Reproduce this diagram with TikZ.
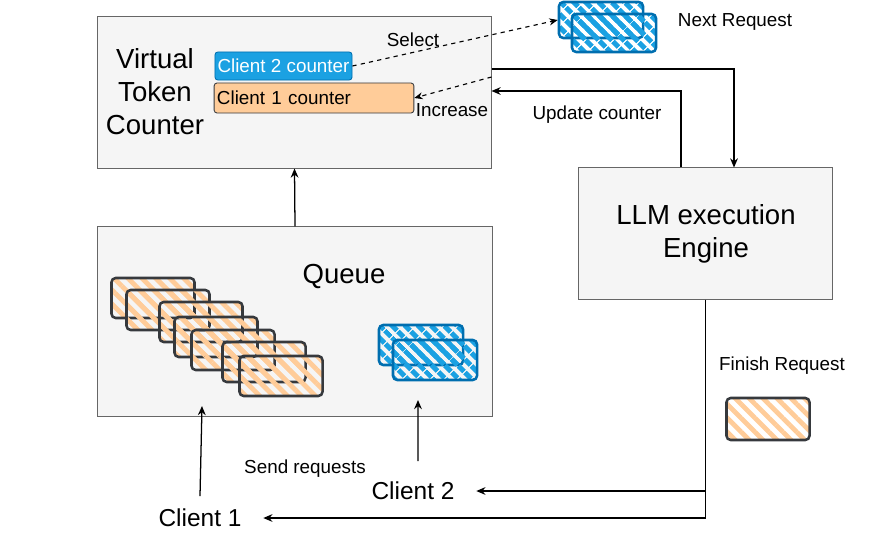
\documentclass[tikz,border=0pt]{standalone}
\usepackage{fontspec}
\setmainfont{Liberation Sans}
\usepackage{tikz}
\usetikzlibrary{arrows.meta, patterns.meta}

\definecolor{panelfill}{HTML}{F5F5F5}
\definecolor{paneldraw}{HTML}{666666}
\definecolor{peach}{HTML}{FFCC99}
\definecolor{darkline}{HTML}{36393D}
\definecolor{skyblue}{HTML}{1BA1E2}
\definecolor{deepblue}{HTML}{006EAF}

\begin{document}
\begin{tikzpicture}[
    x=0.025cm, y=-0.025cm,
    panel/.style={draw=paneldraw, fill=panelfill, line width=0.7pt, inner sep=0pt},
    counter/.style={rounded corners=2pt, draw=darkline, line width=0.6pt, fill=peach, inner xsep=2pt, inner ysep=0pt,
        align=left, font=\fontsize{13.4}{16}\selectfont},
    hatcho/.style={rounded corners=3pt, draw=darkline, line width=1.8pt, inner sep=0pt,
        pattern={Lines[angle=-45, distance=7pt, line width=3.4pt]}, pattern color=peach,
        minimum width=2.075cm, minimum height=1cm},
    hatchb/.style={rounded corners=3pt, draw=deepblue, line width=1.8pt, inner sep=0pt,
        pattern={Lines[angle=-45, distance=6.5pt, line width=4pt]}, pattern color=skyblue,
        minimum width=2.1cm, minimum height=1cm},
    big/.style={font=\fontsize{19.6}{23.5}\selectfont, align=center},
    mid/.style={font=\fontsize{17.4}{21}\selectfont},
    small/.style={font=\fontsize{13.4}{16}\selectfont},
    conn/.style={-{Stealth[length=6.5pt, width=5.5pt]}, line width=0.9pt},
    dconn/.style={-{Stealth[length=6pt, width=5pt]}, line width=0.8pt, dashed}
]
\useasboundingbox (0,0) rectangle (872,540);

% 虚拟令牌计数器
\node[panel, minimum width=9.825cm, minimum height=3.775cm] (vtc) at (294.5,92.5) {};
\node[big] (vtclabel) at (155,92) {Virtual\\Token\\Counter};
\node[counter, fill=skyblue, draw=deepblue, text=white, inner xsep=0.5pt, minimum width=3.425cm, minimum height=0.7cm] (c2cnt) at (283.5,66) {Client 2 counter};
\node[counter, text width=4.85cm, minimum height=0.75cm] (c1cnt) at (314,98) {Client 1 counter};

% 执行引擎
\node[panel, minimum width=6.325cm, minimum height=3.275cm] (llm) at (705.5,233.5) {};
\node[big] (llmlabel) at (706,233.5) {LLM execution\\Engine};

% 队列
\node[panel, minimum width=9.85cm, minimum height=4.725cm] (queue) at (295,321.5) {};
\node[big] (queuelabel) at (344,276) {Queue};

% 客户端1 的请求
\node[hatcho] (o1) at (153,298) {};
\node[hatcho] (o2) at (168,310) {};
\node[hatcho] (o3) at (201,322) {};
\node[hatcho] (o4) at (216,337) {};
\node[hatcho] (o5) at (233,350) {};
\node[hatcho] (o6) at (264,362) {};
\node[hatcho] (o7) at (281,376) {};

% 客户端2 的请求
\node[hatchb] (b1) at (421,345) {};
\node[hatchb] (b2) at (435,360) {};

% 下一个请求 / 完成的请求
\node[hatchb, minimum height=0.9cm] (nr1) at (601,20) {};
\node[hatchb, minimum height=0.95cm] (nr2) at (614,33) {};
\node[small, anchor=west] (nrlabel) at (673,22) {Next Request};
\node[hatcho, minimum height=1.05cm] (fin) at (768,419) {};
\node[small] (finlabel) at (782,366) {Finish Request};

% 客户端
\node[mid] (client1) at (200,518) {Client 1};
\node[mid] (client2) at (413,491) {Client 2};
\coordinate (q1) at (202,406);
\coordinate (q2) at (418,400);

% 连线
\draw[conn] (queue.north) -- (vtc.south);
\draw[conn] (vtc.east |- 0,69) -| ([xshift=0.7125cm]llm.north);
\draw[conn] ([xshift=-0.6125cm]llm.north) |- (vtc.east |- 0,91);
\draw[dconn] (c2cnt.east) -- (nr1.west);
\draw[dconn] (vtc.east |- 0,77) -- (c1cnt.east);
\draw[conn] ([yshift=0.2cm]client1.north) -- (q1);
\draw[conn] ([xshift=0.125cm, yshift=0.4cm]client2.north) -- (q2);
\draw[conn, shorten >=12pt] (llm.south) |- (client1.east);
\draw[conn, shorten >=12pt] (llm.south |- client2.east) -- (client2.east);

% 标签
\node[small] (sellabel) at (413,40) {Select};
\node[small] (inclabel) at (452,110) {Increase};
\node[small] (updlabel) at (597,115) {Update counter};
\node[small] (sendlabel) at (305,469) {Send requests};
\end{tikzpicture}
\end{document}
